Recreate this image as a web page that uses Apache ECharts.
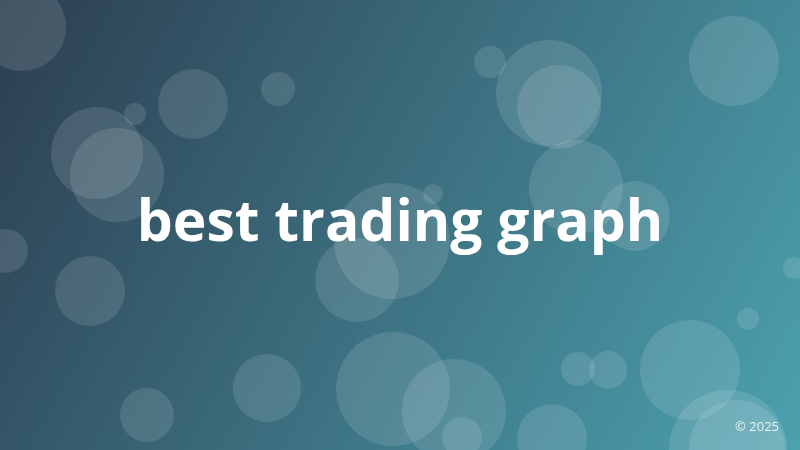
<!DOCTYPE html>
<html lang="en">

<head>
    <meta charset="UTF-8">
    <title>best trading graph</title>
    <script src="https://cdn.jsdelivr.net/npm/echarts@6.0.0/dist/echarts.min.js"></script>
    <style>
        html, body { margin: 0; padding: 0; }
    </style>
</head>

<body>
    <div id="chart" style="width: 800px; height: 450px;"></div>
    <script type="text/javascript">
        // Bubble positions (pixel-like units on a 800x450 plane) and radii
        const bubbleX = [22, 193, 278, 135, 97, 117, 490, 549, 559, 734, 576, 433, 635, 392, 357,
            6, 90, 794, 748, 690, 578, 608, 393, 454, 267, 147, 552, 462, 728, 737];
        const bubbleY = [27, 104, 89, 114, 153, 175, 62, 93, 107, 61, 187, 194, 216, 241, 280,
            251, 291, 268, 319, 370, 369, 370, 389, 411, 388, 415, 439, 437, 449, 448];
        const bubbleR = [44, 35, 17, 11, 46, 47, 16, 53, 42, 45, 47, 10, 35, 58, 42,
            22, 35, 11, 11, 50, 17, 19, 57, 52, 34, 27, 35, 20, 59, 48];

        const titleText = 'best trading graph';
        const footerText = '© 2025';

        const chart = echarts.init(document.getElementById('chart'));

        const bubbles = bubbleX.map((x, i) => [x, bubbleY[i], bubbleR[i]]);

        chart.setOption({
            animation: false,
            backgroundColor: {
                type: 'linear', x: 0, y: 0, x2: 1, y2: 1,
                colorStops: [
                    { offset: 0, color: '#2c3e50' },
                    { offset: 1, color: '#4ca1af' }
                ]
            },
            grid: { left: 0, right: 0, top: 0, bottom: 0 },
            xAxis: { type: 'value', min: 0, max: 800, show: false },
            yAxis: { type: 'value', min: 0, max: 450, inverse: true, show: false },
            series: [{
                type: 'scatter',
                data: bubbles,
                symbolSize: d => d[2] * 2,
                itemStyle: { color: 'rgba(255,255,255,0.15)' },
                silent: true
            }],
            graphic: [
                {
                    type: 'text',
                    left: 'center',
                    top: 196,
                    style: {
                        text: titleText,
                        fill: '#ffffff',
                        font: 'bold 57px "Open Sans", sans-serif'
                    }
                },
                {
                    type: 'text',
                    right: 21,
                    top: 421,
                    style: {
                        text: footerText,
                        fill: 'rgba(255,255,255,0.85)',
                        font: '13px "Open Sans", sans-serif'
                    }
                }
            ]
        });
    </script>
</body>

</html>
